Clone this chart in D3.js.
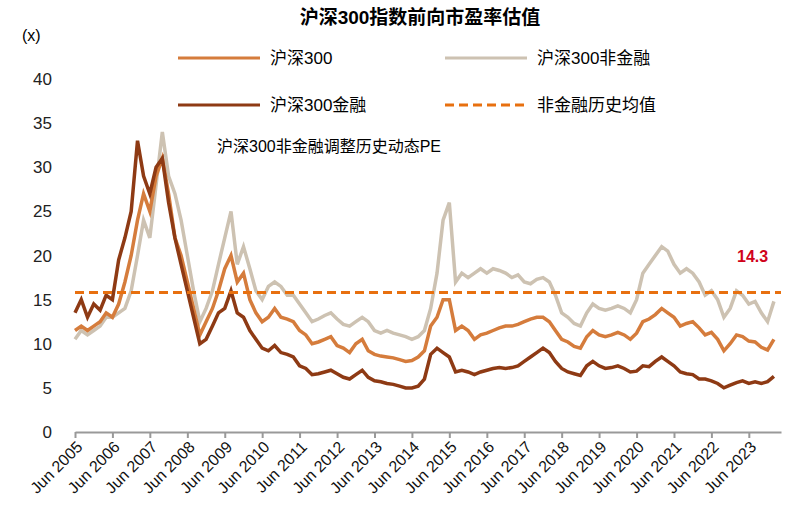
<!DOCTYPE html>
<html><head><meta charset="utf-8">
<script src="https://cdn.jsdelivr.net/npm/d3@7"></script>
<style>body{margin:0;background:#fff;font-family:"Liberation Sans","Noto Sans CJK SC",sans-serif}</style>
</head><body><svg id="chart"></svg>
<script>
// bi-monthly points starting Jun 2005
const startDate = new Date(2005, 5, 1);
const fin = [13.5,15,13,14.5,
  13.8,15.5,15,19.5,22,25, 33,29,27,30,31,26, 22,19,16,13,10,10.5, 12,13.5,14,16,13.5,13,
  11.5,10.5,9.5,9.2,9.8,9, 8.8,8.5,7.5,7.2,6.5,6.6, 6.8,7,6.6,6.2,6,6.5, 7,6.2,5.8,5.7,5.5,5.4,
  5.2,5,5,5.2,6,8.8, 9.5,9,8.5,6.8,7,6.8, 6.5,6.8,7,7.2,7.3,7.2, 7.3,7.5,8,8.5,9,9.5,
  9,8,7.2,6.8,6.6,6.4, 7.5,8,7.5,7.2,7.3,7.5, 7.2,6.8,6.9,7.5,7.4,8, 8.5,8,7.5,6.8,6.6,6.5,
  6,6,5.8,5.5,5,5.3, 5.6,5.8,5.5,5.7,5.5,5.7, 6.3];
const csi = [11.5,12,11.5,12,
  12.5,13.5,13,14.5,17,20, 24,27,25,29,31,27, 22,20,17,14,11,12.5, 14,16,18.5,20,17,18,
  15,13.5,12.5,13,14,13, 12.8,12.5,11.5,11,10,10.2, 10.5,10.8,9.8,9.5,9,10, 10.5,9.2,8.8,8.6,8.5,8.4,
  8.2,8,8.1,8.5,9.2,12, 13,15,15,11.5,12,11.5, 10.5,11,11.2,11.5,11.8,12, 12,12.2,12.5,12.8,13,13,
  12.5,11.5,10.5,10.2,9.7,9.5, 10.8,11.5,11,10.8,11,11.3, 11,10.5,11.2,12.5,12.8,13.3, 14,13.5,13,12,12.3,12.5,
  11.8,11,11.3,10.5,9.2,10, 11,10.8,10.3,10.2,9.6,9.3, 10.5];
const nonFin = [10.5,11.5,11,11.5,
  12,13,13,13.5,14,16, 20,24,22,28,34,29, 27,24,20,16,12.5,14, 16,19,22,25,19,21,
  18.5,16,15,16.5,17,16.5, 15.5,15.5,14.5,13.5,12.5,12.8, 13.2,13.5,12.8,12.2,12,12.5, 13,12.5,11.5,11.2,11.5,11.2,
  11,10.8,10.5,10.8,11.5,14, 18,24,26,17,18,17.5, 18,18.5,18,18.5,18.3,18, 17.5,17.8,17,16.8,17.3,17.5,
  17,15.5,13.5,13,12.3,12, 13.5,14.5,14,13.8,14,14.3, 14,13.5,15,18,19,20, 21,20.5,19,18,18.5,18,
  17,15.5,16,15,13,14, 16,15.5,14.5,14.8,13.5,12.5, 14.8];
const avgLine = 15.8;
const avgLabel = "14.3";
const yTicks = [0,5,10,15,20,25,30,35,40];
const tickYears = d3.range(2005, 2024);

const W = 796, H = 531;
const svg = d3.select("#chart").attr("width", W).attr("height", H);
const dateOf = i => d3.timeMonth.offset(startDate, i * 2);

const x = d3.scaleTime().domain([new Date(2005,5,1), new Date(2024,3,10)]).range([75, 781]);
const y = d3.scaleLinear().domain([0, 40]).range([432, 79]);

svg.append("text").attr("x", 420).attr("y", 24).attr("text-anchor", "middle")
  .attr("font-size", 19).attr("font-weight", "bold").text("沪深300指数前向市盈率估值");
svg.append("text").attr("x", 22).attr("y", 41).attr("font-size", 16).text("(x)");

// y labels
svg.selectAll(".yl").data(yTicks).join("text")
  .attr("x", 52).attr("y", d => y(d) + 6).attr("text-anchor", "end")
  .attr("font-size", 17).attr("fill", "#222").text(d => d);

// x axis
const xAxis = d3.axisBottom(x).tickValues(tickYears.map(yr => new Date(yr,5,1)))
  .tickFormat(d => "Jun " + d.getFullYear()).tickSize(6).tickSizeOuter(0);
const gx = svg.append("g").attr("transform", "translate(0,432)").call(xAxis);
gx.select(".domain").attr("stroke", "#999").attr("stroke-width", 2);
gx.selectAll(".tick line").attr("stroke", "#999").attr("stroke-width", 2);
gx.selectAll(".tick text").attr("font-size", 16).attr("fill", "#111").attr("y", 0).attr("dy", 0)
  .attr("text-anchor", "end").attr("transform", "translate(8,16) rotate(-45)");

const line = d3.line().x((d, i) => x(dateOf(i))).y(d => y(d)).curve(d3.curveLinear);
const series = [
  {data: nonFin, color: "#CDC2B2"},
  {data: csi, color: "#D57C3C"},
  {data: fin, color: "#8E3A14"}
];
series.forEach(s => svg.append("path").datum(s.data).attr("d", line)
  .attr("fill", "none").attr("stroke", s.color).attr("stroke-width", 3.5));

svg.append("line").attr("x1", 75).attr("x2", 781).attr("y1", y(avgLine)).attr("y2", y(avgLine))
  .attr("stroke", "#E8700F").attr("stroke-width", 3).attr("stroke-dasharray", "9,5");
svg.append("text").attr("x", 737).attr("y", 262).attr("font-size", 16).attr("font-weight", "bold")
  .attr("fill", "#D0021B").text(avgLabel);
svg.append("text").attr("x", 217).attr("y", 152).attr("font-size", 16).text("沪深300非金融调整历史动态PE");

// legend
const legend = [
  {name: "沪深300", color: "#D57C3C", x: 178, y: 58, dash: null},
  {name: "沪深300非金融", color: "#CDC2B2", x: 445, y: 58, dash: null},
  {name: "沪深300金融", color: "#8E3A14", x: 178, y: 105, dash: null},
  {name: "非金融历史均值", color: "#E8700F", x: 445, y: 105, dash: "9,5"}
];
legend.forEach(l => {
  svg.append("line").attr("x1", l.x).attr("x2", l.x + 82).attr("y1", l.y).attr("y2", l.y)
    .attr("stroke", l.color).attr("stroke-width", 3).attr("stroke-dasharray", l.dash);
  svg.append("text").attr("x", l.x + 92).attr("y", l.y + 6).attr("font-size", 17).text(l.name);
});
</script></body></html>
